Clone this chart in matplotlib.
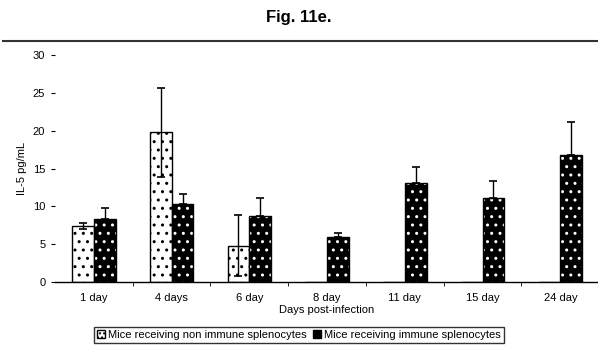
import matplotlib
matplotlib.use("Agg")
import matplotlib.pyplot as plt
import numpy as np
from matplotlib.lines import Line2D
from matplotlib.patches import Patch

plt.rcParams['font.family'] = ['Liberation Sans', 'DejaVu Sans']

categories = ["1 day", "4 days", "6 day", "8 day", "11 day", "15 day", "24 day"]
nonimmune = [7.4, 19.8, 4.8, 0, 0, 0, 0]
nonimmune_err = [0.4, 5.9, 4.0, 0, 0, 0, 0]
immune = [8.3, 10.3, 8.7, 6.0, 13.1, 11.1, 16.8]
immune_err = [1.5, 1.4, 2.4, 0.5, 2.1, 2.2, 4.3]
yticks = [0, 5, 10, 15, 20, 25, 30]
series_names = ["Mice receiving non immune splenocytes", "Mice receiving immune splenocytes"]

fig = plt.figure(figsize=(5.98, 3.55), dpi=100)
ax = fig.add_axes([0.092, 0.2056, 0.91, 0.639])

x = np.arange(len(categories))
w = 0.28

# non-immune bars: white with black dots
ax.bar(x - w/2, nonimmune, w, facecolor='white', edgecolor='black', hatch='..', linewidth=1.0)
# immune bars: black with white dots
ax.bar(x + w/2, immune, w, facecolor='black', edgecolor='white', hatch='..', linewidth=0)
ax.bar(x + w/2, immune, w, fill=False, edgecolor='black', linewidth=1.0)

# error bars
for i in range(len(categories)):
    if nonimmune_err[i] > 0:
        ax.errorbar(x[i] - w/2, nonimmune[i], yerr=nonimmune_err[i], fmt='none',
                    ecolor='black', elinewidth=1.0, capsize=3, capthick=1.2)
    ax.errorbar(x[i] + w/2, immune[i], yerr=[[0], [immune_err[i]]], fmt='none',
                ecolor='black', elinewidth=1.0, capsize=3, capthick=1.2)

ax.set_xlim(-0.5, len(categories) - 0.5)
ax.set_ylim(0, 30)
ax.set_yticks(yticks)
ax.set_yticklabels([str(v) for v in yticks], fontsize=8)
ax.set_xticks(x)
ax.set_xticklabels(categories, fontsize=8)
ax.tick_params(axis='x', length=0, pad=8)
ax.tick_params(axis='y', length=3, direction='out', pad=4)
ax.set_xticks(x[:-1] + 0.5, minor=True)
ax.tick_params(axis='x', which='minor', length=3, direction='out')
for s in ['top', 'right', 'left']:
    ax.spines[s].set_visible(False)
ax.spines['bottom'].set_linewidth(1.0)

ax.set_ylabel("IL-5 pg/mL", fontsize=8, labelpad=4)
ax.set_xlabel("Days post-infection", fontsize=8, labelpad=1)

fig.text(0.5, 0.952, "Fig. 11e.", ha='center', va='center', fontsize=12, fontweight='bold')
fig.add_artist(Line2D([0.005, 1.0], [0.8845, 0.8845], color='#333333', linewidth=1.5))

handles = [Patch(facecolor='white', edgecolor='black', hatch='....'),
           Patch(facecolor='black', edgecolor='black')]
leg = fig.legend(handles, series_names, loc='center', bbox_to_anchor=(0.5, 0.056),
                 ncol=2, fontsize=8, frameon=True, fancybox=False, edgecolor='black',
                 handlelength=0.7, handleheight=0.7, handletextpad=0.3, columnspacing=0.6,
                 borderpad=0.3)
leg.get_frame().set_linewidth(1.0)

fig.savefig("out.png", dpi=100)
